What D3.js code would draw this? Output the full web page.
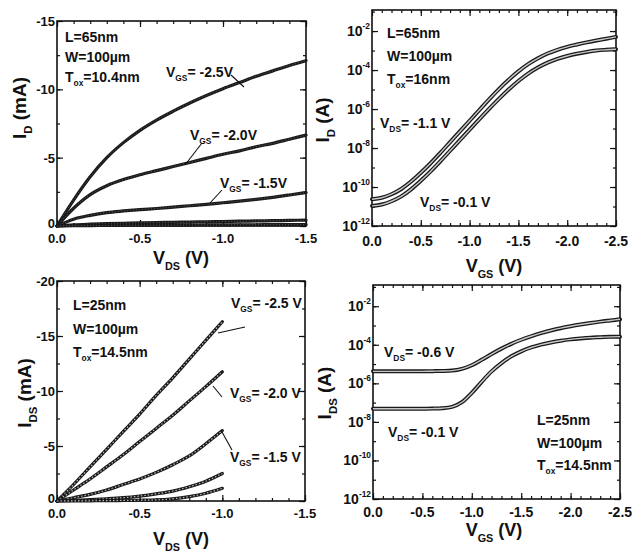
<!DOCTYPE html>
<html>
<head>
<meta charset="utf-8">
<script src="https://cdn.jsdelivr.net/npm/d3@7"></script>
<style>
  html, body { margin: 0; padding: 0; background: #fff; }
  svg { display: block; }
  text { font-family: "Liberation Sans", Arial, sans-serif; font-weight: bold; fill: #111; }
</style>
</head>
<body>
<svg width="634" height="555"></svg>
<script>
// ---------- data ----------
// (a) L=65nm output curves: VDS (V) vs ID (mA)
const vdsA = [0, -0.1, -0.2, -0.3, -0.4, -0.5, -0.6, -0.7, -0.8, -0.9, -1.0, -1.1, -1.2, -1.3, -1.4, -1.5];
const idA_vgs25 = [0, -1.9, -3.6, -5.0, -6.1, -7.0, -7.75, -8.4, -9.0, -9.55, -10.05, -10.5, -10.95, -11.35, -11.75, -12.1];
const idA_vgs20 = [0, -1.3, -2.3, -2.95, -3.4, -3.75, -4.05, -4.35, -4.65, -4.95, -5.25, -5.5, -5.8, -6.05, -6.35, -6.65];
const idA_vgs15 = [0, -0.5, -0.78, -0.98, -1.1, -1.2, -1.28, -1.38, -1.48, -1.58, -1.7, -1.82, -1.95, -2.1, -2.27, -2.45];
const idA_vgs10 = [0, -0.08, -0.13, -0.17, -0.2, -0.23, -0.25, -0.27, -0.29, -0.31, -0.33, -0.35, -0.37, -0.39, -0.41, -0.43];
const idA_vgs05 = [0, -0.02, -0.03, -0.04, -0.05, -0.06, -0.06, -0.07, -0.07, -0.08, -0.08, -0.09, -0.09, -0.1, -0.1, -0.1];

// (b) L=65nm transfer curves: VGS (V) vs log10 ID (A)
const vgsB = [0, -0.1, -0.2, -0.3, -0.4, -0.5, -0.6, -0.7, -0.8, -0.9, -1.0, -1.1, -1.2, -1.3,
              -1.4, -1.5, -1.6, -1.7, -1.8, -1.9, -2.0, -2.1, -2.2, -2.3, -2.4, -2.5];
const logIdB_vds11 = [-10.63, -10.55, -10.37, -10.1, -9.72, -9.27, -8.78, -8.25, -7.7, -7.15, -6.6, -6.05, -5.5,
                      -4.98, -4.5, -4.07, -3.7, -3.4, -3.15, -2.96, -2.81, -2.69, -2.58, -2.48, -2.39, -2.3];
const logIdB_vds01 = [-10.97, -10.9, -10.73, -10.48, -10.12, -9.68, -9.2, -8.68, -8.14, -7.6, -7.06, -6.52, -5.99,
                      -5.48, -5.0, -4.56, -4.18, -3.87, -3.62, -3.43, -3.28, -3.16, -3.07, -3.0, -2.96, -2.93];

// (c) L=25nm output curves: VDS (V) vs IDS (mA)
const vdsC = [0, -0.1, -0.2, -0.3, -0.4, -0.5, -0.6, -0.7, -0.8, -0.9, -1.0];
const idC_vgs25 = [0, -1.5, -3.1, -4.7, -6.3, -7.9, -9.6, -11.2, -12.9, -14.6, -16.3];
const idC_vgs20 = [0, -1.0, -2.0, -3.1, -4.2, -5.4, -6.6, -7.8, -9.1, -10.4, -11.75];
const idC_vgs15 = [0, -0.3, -0.6, -1.0, -1.5, -2.0, -2.6, -3.3, -4.1, -5.2, -6.4];
const idC_vgs10 = [0, -0.05, -0.12, -0.2, -0.3, -0.45, -0.65, -0.9, -1.3, -1.8, -2.5];
const idC_vgs05 = [0, -0.01, -0.02, -0.03, -0.05, -0.07, -0.1, -0.2, -0.4, -0.7, -1.15];

// (d) L=25nm transfer curves: VGS (V) vs log10 IDS (A)
const vgsD = vgsB;
const logIdD_vds06 = [-5.38, -5.38, -5.38, -5.38, -5.38, -5.38, -5.37, -5.36, -5.34, -5.25, -5.06, -4.78, -4.48,
                      -4.2, -3.95, -3.74, -3.56, -3.4, -3.26, -3.14, -3.04, -2.95, -2.87, -2.8, -2.74, -2.68];
const logIdD_vds01 = [-7.32, -7.32, -7.32, -7.32, -7.32, -7.32, -7.31, -7.29, -7.22, -6.98, -6.5, -5.92, -5.38,
                      -4.95, -4.6, -4.34, -4.14, -3.99, -3.88, -3.79, -3.72, -3.67, -3.63, -3.61, -3.59, -3.58];

// tick values
const xTicksOut = [0, -0.5, -1.0, -1.5];
const yTicksA = [0, -5, -10, -15];
const yTicksC = [0, -5, -10, -15, -20];
const xTicksTr = [0, -0.5, -1.0, -1.5, -2.0, -2.5];
const logTicks = [-12, -10, -8, -6, -4, -2];

const svg = d3.select("svg");

/********************************************************************/
// helpers
/********************************************************************/
// parts: [[text, kind]] with kind "sub" / "sup" / undefined
function richText(g, x, y, parts, size, anchor) {
  const t = g.append("text")
    .attr("x", x).attr("y", y)
    .attr("font-size", size)
    .attr("text-anchor", anchor || "start");
  let shift = 0;
  parts.forEach(([str, kind]) => {
    const target = kind === "sub" ? size * 0.32 : kind === "sup" ? -size * 0.5 : 0;
    t.append("tspan")
      .attr("dy", target - shift)
      .attr("font-size", kind ? size * 0.6 : size)
      .text(str);
    shift = target;
  });
  return t;
}

function range(a, b, step) {
  const out = [];
  const n = Math.round((b - a) / step);
  for (let i = 0; i <= n; i++) out.push(+(a + i * step).toFixed(4));
  return out;
}

// plain hyphen minus, as in the original figure
function fmt1(d) {
  return d === 0 ? "0.0" : d.toFixed(1);
}

function drawPanel(p) {
  const g = svg.append("g");
  const x = d3.scaleLinear().domain(p.xDomain).range([p.left, p.right]);
  const y = (p.log ? d3.scaleLog() : d3.scaleLinear()).domain(p.yDomain).range([p.bottom, p.top]);

  // ticks on all four sides, pointing inwards
  const mk = (axisFn, scale, vals, size) => axisFn(scale).tickValues(vals).tickSize(size).tickFormat("");
  const addAxis = (axis, tx, ty) => {
    const a = g.append("g").attr("transform", `translate(${tx},${ty})`).call(axis);
    a.select(".domain").remove();
    a.selectAll(".tick line").attr("stroke", "#111").attr("stroke-width", 1.2);
    return a;
  };
  addAxis(mk(d3.axisBottom, x, p.xMinor, -3), 0, p.bottom);
  addAxis(mk(d3.axisTop, x, p.xMinor, -3), 0, p.top);
  addAxis(mk(d3.axisLeft, y, p.yMinor, -3), p.left, 0);
  addAxis(mk(d3.axisRight, y, p.yMinor, -3), p.right, 0);
  addAxis(mk(d3.axisBottom, x, p.xTicks, -6), 0, p.bottom);
  addAxis(mk(d3.axisTop, x, p.xTicks, -6), 0, p.top);
  addAxis(mk(d3.axisLeft, y, p.yTicks, -6), p.left, 0);
  addAxis(mk(d3.axisRight, y, p.yTicks, -6), p.right, 0);

  // frame
  g.append("rect")
    .attr("x", p.left).attr("y", p.top)
    .attr("width", p.right - p.left).attr("height", p.bottom - p.top)
    .attr("fill", "none").attr("stroke", "#111").attr("stroke-width", 1.6);

  // x tick labels
  p.xTicks.forEach(v => {
    g.append("text")
      .attr("x", x(v)).attr("y", p.bottom + p.xLabelDy)
      .attr("text-anchor", "middle")
      .attr("font-size", p.tickSize)
      .text(fmt1(v));
  });
  // y tick labels
  p.yTicks.forEach(v => {
    if (p.log) {
      const e = Math.round(Math.log10(v));
      richText(g, p.left - 2, y(v) + 5, [["10"], [String(e), "sup"]], p.tickSize, "end");
    } else {
      g.append("text")
        .attr("x", p.left - 2).attr("y", y(v) + (v === 0 ? 2 : 5))
        .attr("text-anchor", "end")
        .attr("font-size", p.tickSize)
        .text(String(v));
    }
  });

  // axis titles
  richText(g, p.xTitle.x, p.xTitle.y, p.xTitle.parts, 18, "middle");
  const yt = g.append("g").attr("transform", `translate(${p.yTitle.x},${p.yTitle.y}) rotate(-90)`);
  richText(yt, 0, 0, p.yTitle.parts, 19, "middle");

  // curves
  const line = d3.line()
    .x(d => x(d[0]))
    .y(d => y(d[1]))
    .curve(d3.curveMonotoneX);
  p.series.forEach(s => {
    const pts = s.xs.map((v, i) => [v, p.log ? Math.pow(10, s.ys[i]) : s.ys[i]]);
    g.append("path").attr("d", line(pts))
      .attr("fill", "none").attr("stroke", "#1a1a1a")
      .attr("stroke-width", p.lineW).attr("stroke-linejoin", "round").attr("stroke-linecap", "round");
    g.append("path").attr("d", line(pts))
      .attr("fill", "none").attr("stroke", p.innerColor)
      .attr("stroke-width", p.innerW)
      .attr("stroke-dasharray", p.innerDash || null);
  });

  // notes and curve labels
  p.notes.forEach(n => richText(g, n.x, n.y, n.parts, n.size || 14, n.anchor));
  (p.leaders || []).forEach(l => {
    g.append("line")
      .attr("x1", l[0]).attr("y1", l[1]).attr("x2", l[2]).attr("y2", l[3])
      .attr("stroke", "#111").attr("stroke-width", 1.1);
  });
}

const devNotes = (x, y, L, tox, gap) => [
  { x: x, y: y, parts: [["L=" + L]] },
  { x: x, y: y + gap, parts: [["W=100\u00b5m"]] },
  { x: x, y: y + 2 * gap, parts: [["T"], ["ox", "sub"], ["=" + tox]] }
];

const vgsLabel = (x, y, v) => ({ x: x, y: y, parts: [["V"], ["GS", "sub"], ["= " + v]] });
const vdsLabel = (x, y, v) => ({ x: x, y: y, parts: [["V"], ["DS", "sub"], ["= " + v]] });

// (a)
drawPanel({
  left: 57, right: 306, top: 21, bottom: 226,
  xDomain: [0, -1.5], yDomain: [0, -15], log: false,
  xTicks: xTicksOut, xMinor: range(0, -1.5, -0.1),
  yTicks: yTicksA, yMinor: range(0, -15, -2.5),
  tickSize: 13, xLabelDy: 17,
  xTitle: { x: 181, y: 264, parts: [["V"], ["DS", "sub"], [" (V)"]] },
  yTitle: { x: 26, y: 108, parts: [["I"], ["D", "sub"], [" (mA)"]] },
  lineW: 3.2, innerColor: "#666", innerW: 0.8, innerDash: "1,2",
  series: [
    { xs: vdsA, ys: idA_vgs25 }, { xs: vdsA, ys: idA_vgs20 }, { xs: vdsA, ys: idA_vgs15 },
    { xs: vdsA, ys: idA_vgs10 }, { xs: vdsA, ys: idA_vgs05 }
  ],
  notes: devNotes(65, 42, "65nm", "10.4nm", 20).concat([
    vgsLabel(166, 77, "-2.5V"), vgsLabel(190, 140, "-2.0V"), vgsLabel(220, 188, "-1.5V")
  ]),
  leaders: [[231, 75, 244, 87], [202, 143, 185, 165], [222, 190, 210, 203]]
});

// (b)
drawPanel({
  left: 372, right: 616, top: 10, bottom: 226,
  xDomain: [0, -2.5], yDomain: [1e-12, Math.pow(10, -0.92)], log: true,
  xTicks: xTicksTr, xMinor: range(0, -2.5, -0.1),
  yTicks: logTicks.map(e => Math.pow(10, e)), yMinor: range(-12, -1, 1).map(e => Math.pow(10, e)),
  tickSize: 14, xLabelDy: 20,
  xTitle: { x: 494, y: 272, parts: [["V"], ["GS", "sub"], [" (V)"]] },
  yTitle: { x: 329, y: 120, parts: [["I"], ["D", "sub"], [" (A)"]] },
  lineW: 4, innerColor: "#c8c8c8", innerW: 1.4,
  series: [{ xs: vgsB, ys: logIdB_vds11 }, { xs: vgsB, ys: logIdB_vds01 }],
  notes: devNotes(387, 38, "65nm", "16nm", 23).concat([
    vdsLabel(380, 128, "-1.1 V"), vdsLabel(420, 207, "-0.1 V")
  ])
});

// (c)
drawPanel({
  left: 57, right: 305, top: 281, bottom: 501,
  xDomain: [0, -1.5], yDomain: [0, -20], log: false,
  xTicks: xTicksOut, xMinor: range(0, -1.5, -0.1),
  yTicks: yTicksC, yMinor: range(0, -20, -2.5),
  tickSize: 13, xLabelDy: 17,
  xTitle: { x: 181, y: 545, parts: [["V"], ["DS", "sub"], [" (V)"]] },
  yTitle: { x: 31, y: 393, parts: [["I"], ["DS", "sub"], [" (mA)"]] },
  lineW: 3.2, innerColor: "#bbb", innerW: 1.2, innerDash: "1.5,2",
  series: [
    { xs: vdsC, ys: idC_vgs25 }, { xs: vdsC, ys: idC_vgs20 }, { xs: vdsC, ys: idC_vgs15 },
    { xs: vdsC, ys: idC_vgs10 }, { xs: vdsC, ys: idC_vgs05 }
  ],
  notes: devNotes(73, 310, "25nm", "14.5nm", 23.5).concat([
    vgsLabel(231, 308, "-2.5 V"), vgsLabel(230, 398, "-2.0 V"), vgsLabel(230, 462, "-1.5 V")
  ]),
  leaders: [[245, 327, 218, 333], [213, 386, 222, 397], [222, 432, 232, 450]]
});

// (d)
drawPanel({
  left: 373, right: 620, top: 285, bottom: 499,
  xDomain: [0, -2.5], yDomain: [1e-12, Math.pow(10, -0.9)], log: true,
  xTicks: xTicksTr, xMinor: range(0, -2.5, -0.1),
  yTicks: logTicks.map(e => Math.pow(10, e)), yMinor: range(-12, -1, 1).map(e => Math.pow(10, e)),
  tickSize: 14, xLabelDy: 18,
  xTitle: { x: 494, y: 536, parts: [["V"], ["GS", "sub"], [" (V)"]] },
  yTitle: { x: 331, y: 393, parts: [["I"], ["DS", "sub"], [" (A)"]] },
  lineW: 4, innerColor: "#c8c8c8", innerW: 1.4,
  series: [{ xs: vgsD, ys: logIdD_vds06 }, { xs: vgsD, ys: logIdD_vds01 }],
  notes: devNotes(537, 425, "25nm", "14.5nm", 22.5).concat([
    vdsLabel(384, 357, "-0.6 V"), vdsLabel(388, 437, "-0.1 V")
  ])
});
</script>
</body>
</html>
